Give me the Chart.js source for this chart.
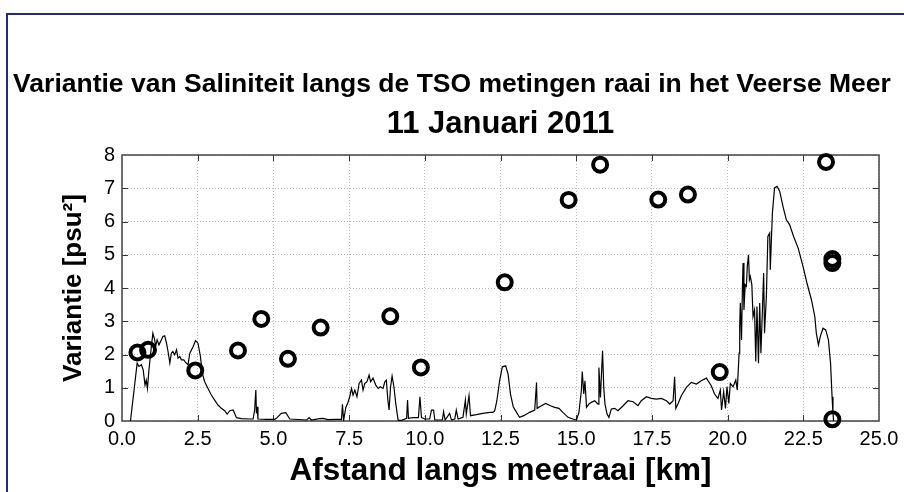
<!DOCTYPE html>
<html>
<head>
<meta charset="utf-8">
<script src="https://cdn.jsdelivr.net/npm/chart.js@4.4.1/dist/chart.umd.min.js"></script>
<style>
html,body{margin:0;padding:0;background:#fff;}
#wrap{position:relative;width:904px;height:492px;overflow:hidden;}
#frame{position:absolute;left:6px;top:13px;width:930px;height:520px;border:2px solid #1f2a8a;box-sizing:border-box;}
#box{position:absolute;left:0;top:0;width:904px;height:492px;}
</style>
</head>
<body>
<div id="wrap">
<div id="frame"></div>
<div id="box"><canvas id="chartVariantie"></canvas></div>
</div>
<script>
const titel="Variantie van Saliniteit langs de TSO metingen raai in het Veerse Meer";
const datum="11 Januari 2011";
const xTitel="Afstand langs meetraai [km]";
const yTitel="Variantie [psu\u00b2]";

const xTicks=[0,2.5,5,7.5,10,12.5,15,17.5,20,22.5,25];
const yTicks=[0,1,2,3,4,5,6,7,8];

// TSO metingen (cirkels)
const puntX=[0.51,0.86,2.42,3.83,4.60,5.48,6.56,8.86,9.87,12.64,14.75,15.79,17.71,18.69,19.74,23.25,23.46,23.46,23.46];
const puntY=[2.06,2.14,1.52,2.12,3.07,1.87,2.81,3.15,1.61,4.17,6.65,7.71,6.66,6.81,1.47,7.79,4.87,4.75,0.05];

// variantie langs de raai (lijn)
const lijnX=[0.28,0.50,0.56,0.64,0.70,0.76,0.80,0.84,0.89,0.97,1.02,1.08,1.11,1.16,1.22,1.30,1.35,1.41,1.47,1.52,1.58,1.63,1.68,1.74,1.80,1.85,1.91,1.96,2.04,2.10,2.18,2.24,2.35,2.43,2.51,2.59,2.65,2.73,2.84,2.95,3.06,3.17,3.28,3.39,3.47,3.56,3.67,3.78,3.94,4.22,4.33,4.38,4.42,4.44,4.46,4.49,4.77,5.04,5.10,5.26,5.41,5.54,6.10,6.18,6.25,6.53,6.64,6.80,7.08,7.25,7.28,7.32,7.39,7.46,7.52,7.58,7.63,7.69,7.76,7.83,7.91,7.96,8.02,8.09,8.16,8.21,8.29,8.38,8.46,8.53,8.62,8.68,8.73,8.78,8.82,8.87,8.92,8.98,9.04,9.12,9.23,9.40,9.43,9.46,9.62,9.79,9.84,9.89,10.01,10.16,10.22,10.29,10.33,10.58,10.62,10.67,10.77,10.82,10.88,10.99,11.04,11.10,11.26,11.34,11.37,11.46,11.51,11.70,11.92,12.14,12.25,12.31,12.38,12.47,12.56,12.67,12.75,12.83,12.92,13.03,13.13,13.27,13.46,13.63,13.69,13.71,13.85,13.99,14.15,14.29,14.43,14.56,14.73,14.89,15.01,15.09,15.17,15.20,15.25,15.29,15.34,15.42,15.50,15.61,15.72,15.75,15.80,15.87,15.91,15.95,16.02,16.08,16.16,16.27,16.38,16.55,16.71,16.88,17.04,17.15,17.32,17.48,17.65,17.81,17.98,18.09,18.20,18.25,18.29,18.36,18.47,18.64,18.80,18.97,19.13,19.30,19.46,19.57,19.68,19.76,19.80,19.87,19.93,19.98,20.04,20.09,20.18,20.27,20.32,20.38,20.40,20.42,20.46,20.49,20.51,20.54,20.58,20.62,20.65,20.69,20.72,20.75,20.80,20.84,20.89,20.93,20.97,21.02,21.06,21.10,21.15,21.19,21.22,21.28,21.33,21.39,21.41,21.45,21.48,21.55,21.63,21.72,21.83,21.94,22.05,22.18,22.33,22.49,22.62,22.77,22.88,22.93,23.00,23.06,23.15,23.24,23.33,23.40,23.45,23.48,23.50];
const lijnY=[0.00,1.74,1.64,1.69,1.54,1.08,1.23,0.98,1.54,2.24,2.64,2.44,2.24,2.44,2.29,2.44,2.54,2.56,2.34,2.09,1.74,2.04,2.09,1.99,2.14,1.89,1.94,1.84,1.84,1.76,1.69,2.04,2.24,2.42,2.34,1.94,1.44,1.18,0.98,0.78,0.63,0.48,0.38,0.31,0.21,0.31,0.33,0.10,0.07,0.06,0.06,0.33,0.93,0.23,0.43,0.06,0.05,0.05,0.08,0.23,0.25,0.06,0.03,0.10,0.03,0.07,0.08,0.04,0.05,0.05,0.50,0.02,0.40,0.55,0.73,0.98,0.78,0.93,0.73,1.13,1.23,0.93,1.13,1.18,1.38,1.18,1.29,1.08,0.98,1.03,0.98,1.18,1.23,0.63,0.33,1.03,1.35,1.03,0.53,0.02,0.02,0.08,0.63,0.08,0.10,0.10,0.73,0.10,0.06,0.06,0.33,0.33,0.03,0.03,0.28,0.03,0.16,0.23,0.03,0.06,0.33,0.06,0.11,0.63,0.21,0.76,0.16,0.19,0.23,0.26,0.26,0.31,0.61,1.21,1.63,1.66,1.41,0.81,0.43,0.26,0.11,0.16,0.26,0.33,1.16,0.38,0.46,0.53,0.46,0.41,0.38,0.26,0.11,0.06,0.03,0.26,0.91,1.49,0.81,1.21,0.41,0.51,0.56,0.61,0.51,1.61,0.71,2.11,1.01,0.51,0.21,0.11,0.36,0.38,0.31,0.46,0.61,0.58,0.46,0.61,0.73,0.68,0.66,0.68,0.61,0.51,0.61,1.33,0.38,0.51,0.76,1.01,1.16,1.11,1.21,1.29,1.06,0.81,0.68,0.93,0.33,0.88,0.38,1.03,0.53,1.13,1.03,1.23,0.93,2.04,2.84,3.55,2.44,4.05,4.75,3.34,4.10,4.05,4.65,5.00,4.25,4.35,4.10,3.14,3.34,1.79,3.44,1.74,3.55,2.04,3.34,4.45,2.64,3.74,5.55,5.65,4.55,5.55,6.26,7.01,7.06,6.91,6.45,6.05,5.90,5.55,5.20,4.65,4.15,3.64,3.14,2.64,2.29,2.54,2.79,2.74,2.44,1.74,0.73,0.23,0.00];

Chart.defaults.font.family="'Liberation Sans', Arial, sans-serif";
Chart.defaults.color="#000";

const kaderPlugin={
id:"kader",
beforeDatasetsDraw(chart){
const {ctx,chartArea:a,scales}=chart;
ctx.save();
ctx.strokeStyle="#333";
ctx.lineWidth=1;
ctx.beginPath();
xTicks.slice(1,-1).forEach(v=>{
const p=Math.round(scales.x.getPixelForValue(v))+0.5;
ctx.moveTo(p,a.bottom);ctx.lineTo(p,a.bottom-6);
ctx.moveTo(p,a.top);ctx.lineTo(p,a.top+6);
});
yTicks.slice(1,-1).forEach(v=>{
const p=Math.round(scales.y.getPixelForValue(v))+0.5;
ctx.moveTo(a.left,p);ctx.lineTo(a.left+6,p);
ctx.moveTo(a.right,p);ctx.lineTo(a.right-6,p);
});
ctx.stroke();
ctx.lineWidth=1.5;
ctx.strokeStyle="#444";
ctx.strokeRect(a.left,a.top,a.right-a.left,a.bottom-a.top);
ctx.restore();
}
};

new Chart(document.getElementById("chartVariantie"),{
type:"scatter",
data:{
datasets:[{
label:"TSO metingen",
data:puntX.map((x,i)=>({x:x,y:puntY[i]})),
showLine:false,
pointRadius:7,
pointBorderWidth:4,
pointBorderColor:"#000",
pointBackgroundColor:"rgba(0,0,0,0)",
clip:false,
order:1
},{
label:"Variantie",
data:lijnX.map((x,i)=>({x:x,y:lijnY[i]})),
showLine:true,
pointRadius:0,
borderColor:"#000",
borderWidth:1.2,
tension:0,
order:2
}]
},
options:{
responsive:true,
maintainAspectRatio:false,
animation:false,
layout:{padding:0},
plugins:{
legend:{display:false},
tooltip:{enabled:false},
title:{display:true,text:titel,font:{size:26.5,weight:"bold"},padding:{top:69,bottom:0}}
},
scales:{
x:{
type:"linear",min:0,max:25,
afterBuildTicks:s=>{s.ticks=xTicks.map(v=>({value:v}));},
afterFit:s=>{s.height=71;s.paddingLeft=0;s.paddingRight=0;},
ticks:{font:{size:20},padding:6,maxRotation:0,callback:v=>v.toFixed(1)},
grid:{color:"#b8b8b8",lineWidth:1,drawTicks:false},
border:{display:false,dash:[1,2]},
title:{display:true,text:xTitel,font:{size:31.5,weight:"bold"},padding:{top:0,bottom:2}}
},
xTop:{
type:"linear",position:"top",min:0,max:25,
afterFit:s=>{s.height=54.2;s.paddingLeft=0;s.paddingRight=0;},
ticks:{display:false},
grid:{display:false},
border:{display:false},
title:{display:true,text:datum,font:{size:31,weight:"bold"},padding:{top:5.5,bottom:0}}
},
y:{
min:0,max:8,
afterBuildTicks:s=>{s.ticks=yTicks.map(v=>({value:v}));},
afterFit:s=>{s.width=122;},
ticks:{font:{size:20},padding:7,callback:v=>v},
grid:{color:"#b8b8b8",lineWidth:1,drawTicks:false},
border:{display:false,dash:[1,2]},
title:{display:true,text:yTitel,font:{size:26,weight:"bold"},padding:{top:58,bottom:0}}
},
yRechts:{
position:"right",min:0,max:8,
afterFit:s=>{s.width=25;},
ticks:{display:false},
grid:{display:false},
border:{display:false}
}
}
},
plugins:[kaderPlugin]
});
</script>
</body>
</html>
